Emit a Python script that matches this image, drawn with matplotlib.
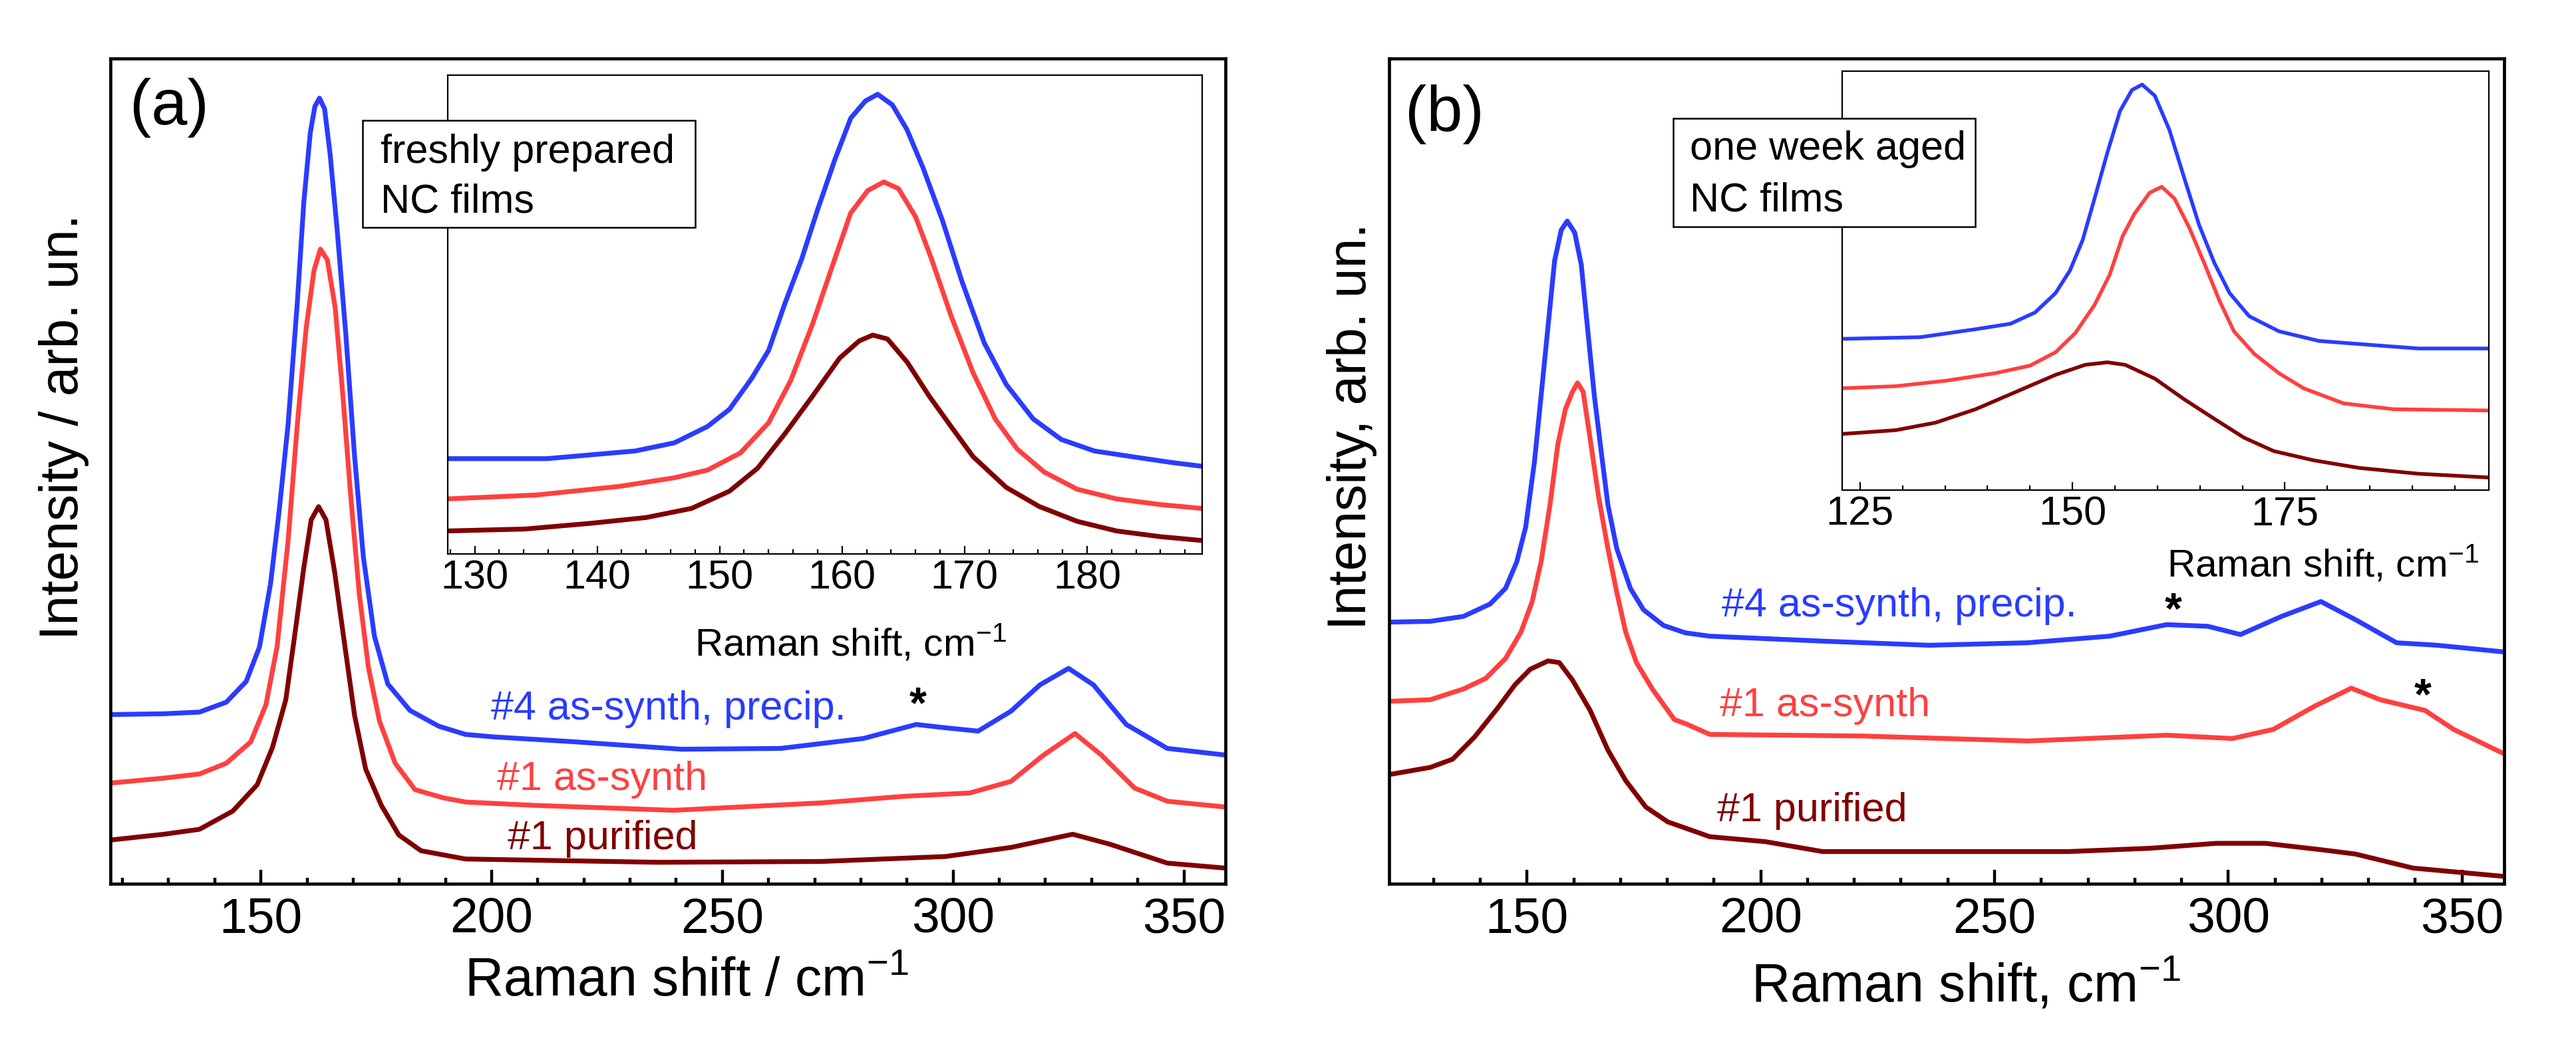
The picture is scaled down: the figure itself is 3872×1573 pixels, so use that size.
import numpy as np
import matplotlib
matplotlib.use("Agg")
import matplotlib.pyplot as plt
from matplotlib.patches import Rectangle
from matplotlib.ticker import MultipleLocator

plt.rcParams['font.family'] = ['Liberation Sans', 'DejaVu Sans']
plt.rcParams['mathtext.fontset'] = 'custom'
plt.rcParams['mathtext.rm'] = 'Liberation Sans'
plt.rcParams['mathtext.it'] = 'Liberation Sans:italic'

BLUE = '#2a3cff'
RED = '#ff4040'
DARK = '#800000'

# panel (a), main spectra (arb. units, 0-100 = axis height)
a_x_blue = [117.4, 129, 136.7, 142.5, 146.8, 149.7, 152.1, 154, 155.9, 157.9, 159.3, 160.7, 161.7,
            162.7, 163.8, 165, 166.5, 168.4, 170.3, 172.2, 174.6, 177.5, 182.3, 188.5, 194.3,
            200.3, 218, 241.2, 262.6, 280.5, 292, 298.3, 305.4, 312.5, 318.8,
            325, 330.4, 337.5, 346.4, 358.9]
a_y_blue = [20.5, 20.6, 20.8, 22.0, 24.5, 28.7, 36.4, 45.4, 55.7, 70.5, 82.6, 91.0, 94.2,
            95.2, 93.9, 88.4, 79.4, 66.6, 51.8, 39.6, 30.0, 24.2, 21.0, 19.1, 18.1,
            17.8, 17.2, 16.3, 16.4, 17.6, 19.3, 18.9, 18.5, 20.9, 24.1,
            26.1, 24.1, 19.3, 16.4, 15.6]
a_x_red = [117.4, 129, 136.7, 142.5, 147.8, 151.1, 153.5, 155.9, 157.9, 159.8, 161.5, 162.9, 164.4,
           166.1, 167.7, 169.4, 171.3, 173.3, 175.7, 179.1, 183.4, 189.6, 194.4,
           209.2, 239.5, 271.5, 289.4, 303.6, 312.5, 319.6, 326.4, 332.1,
           339.3, 346.4, 358.9]
a_y_red = [12.2, 12.8, 13.3, 14.6, 17.2, 21.7, 28.7, 41.6, 55.7, 67.3, 74.3, 76.9, 75.6,
           69.8, 59.6, 47.4, 35.2, 26.2, 19.7, 14.6, 11.4, 10.4, 9.9,
           9.5, 8.9, 9.8, 10.6, 11.0, 12.4, 15.6, 18.2, 15.6,
           11.6, 10.0, 9.3]
a_x_dark = [117.4, 129, 136.7, 143.9, 149.2, 152.5, 155.4, 157.3, 159.3, 160.9, 162.5, 164.1,
            166, 167.9, 170.3, 172.7, 176.1, 179.9, 184.7, 194.3,
            235.9, 271.5, 298.3, 312.5, 325.9, 333.9, 346.4, 358.9]
a_y_dark = [5.3, 6.0, 6.6, 8.8, 12.0, 16.5, 22.3, 30.0, 38.3, 44.1, 45.7, 44.1,
            37.7, 30.0, 20.4, 13.9, 9.5, 5.9, 4.0, 3.0,
            2.6, 2.7, 3.3, 4.4, 6.0, 4.8, 2.5, 1.9]

# panel (a), inset
ai_x_blue = [127.8, 135.9, 143.1, 146.3, 149, 150.8, 152.6, 154, 155.3, 156.7, 158, 159.4, 160.7,
             161.9, 162.9, 164.1, 165.3, 166.6, 168.2, 169.8, 171.6, 173.4, 175.6, 177.9,
             180.6, 183.7, 186.9, 189.4]
ai_y_blue = [19.9, 19.9, 21.5, 23.2, 26.6, 30.2, 36.6, 42.5, 52.1, 61.6, 71.9, 82.3, 91.0,
             94.6, 96.0, 93.8, 88.6, 80.7, 69.6, 56.8, 44.1, 35.4, 28.2, 23.9,
             21.5, 20.3, 19.1, 18.3]
ai_x_red = [127.8, 135, 141.8, 146.3, 149, 151.7, 154, 155.8, 157.6, 159.4, 160.7, 162.1, 163.4,
            164.6, 166, 167.3, 168.9, 170.7, 172.5, 174.3, 176.5, 179.2, 182.4, 186, 189.4]
ai_y_red = [11.5, 12.3, 14.1, 15.9, 17.5, 21.1, 27.4, 36.2, 48.1, 61.6, 71.2, 75.9, 77.7,
            76.3, 70.4, 61.6, 49.7, 37.8, 28.2, 21.9, 17.1, 13.5, 11.5, 10.3, 9.5]
ai_x_dark = [127.8, 134.1, 139.5, 144, 147.7, 150.8, 153.1, 155.3, 157.6, 159.8, 161.4, 162.5,
             163.7, 165.3, 167.1, 168.9, 170.7, 173.4, 176.1, 179.2, 182.4, 186, 189.4]
ai_y_dark = [4.8, 5.2, 6.4, 7.6, 9.5, 13.1, 17.9, 25.0, 33.0, 40.9, 44.5, 45.7,
             44.9, 40.1, 33.0, 26.6, 20.3, 13.9, 9.9, 6.8, 4.8, 3.6, 2.8]

# panel (b), main spectra
b_x_blue = [120.2, 129.3, 136.4, 142.1, 145.4, 147.8, 149.7, 151.6, 153, 154.5, 155.9, 157.3,
            158.6, 160.2, 161.6, 163, 164.4, 165.9, 167.3, 169.2, 172.1, 174.9, 179.2, 183.9,
            189.1, 213.2, 236, 257, 274.6, 286.8, 295.6, 302.6, 311.4, 319.8, 327.2, 336,
            344.7, 358.8]
b_y_blue = [31.7, 31.8, 32.4, 33.9, 35.8, 39.0, 43.2, 51.2, 59.1, 67.6, 75.5, 79.2,
            80.3, 78.9, 75.0, 67.0, 59.1, 52.2, 45.9, 40.6, 35.8, 33.2, 31.3, 30.4,
            30.0, 29.4, 28.9, 29.2, 30.0, 31.4, 31.2, 30.2, 32.4, 34.2, 32.0, 29.2,
            28.9, 28.1]
b_x_red = [120.2, 129.3, 136.4, 141.2, 145.4, 148.7, 151.1, 153, 154.9, 156.6, 158.2, 159.7,
           160.8, 162, 163.4, 165.3, 167.3, 169.2, 171.1, 173.4, 176.8, 181.5, 183.9, 189.1,
           221.9, 257, 286.8, 300.9, 309.6, 318.4, 326.3, 332.5, 342.1, 348.2, 358.8]
b_y_red = [22.1, 22.3, 23.6, 24.9, 27.3, 30.5, 34.2, 39.0, 45.9, 53.3, 57.5, 59.6,
           60.7, 59.6, 54.3, 46.9, 40.6, 35.3, 30.5, 26.8, 23.6, 19.9, 19.4, 18.1,
           17.9, 17.3, 18.0, 17.6, 18.7, 21.5, 23.7, 22.3, 21.0, 18.7, 15.8]
b_x_dark = [120.2, 129.3, 134.1, 138.8, 143.6, 147.4, 150.7, 154.5, 156.9, 159.7, 163.5, 167.3,
            171.1, 175.4, 180.1, 189.1, 201, 213.2, 239.5, 265.8, 283.3, 297.4, 307.9,
            320.2, 327.2, 339.5, 358.8]
b_y_dark = [13.2, 14.1, 15.1, 17.8, 21.2, 24.1, 26.0, 27.0, 26.8, 24.7, 21.0, 16.2,
            12.5, 9.3, 7.5, 5.7, 5.1, 3.9, 3.9, 3.9, 4.3, 4.9, 4.9,
            4.1, 3.6, 1.9, 0.9]

# panel (b), inset
bi_x_blue = [122.9, 132.1, 138.6, 142.7, 145.6, 148, 149.7, 151.2, 152.6, 154.1, 155.6, 157,
             158.2, 159.7, 161.4, 163.2, 164.9, 166.7, 168.5, 170.8, 174.3, 179, 184.8,
             190.7, 199]
bi_y_blue = [36.1, 36.5, 38.4, 39.7, 42.4, 47.0, 52.4, 59.7, 69.6, 80.5, 90.5, 95.5,
             96.8, 94.1, 86.0, 74.2, 63.3, 54.2, 47.0, 41.5, 37.9, 35.6, 34.7,
             33.8, 33.8]
bi_x_red = [122.9, 129.2, 135.1, 140.9, 145, 148, 150.3, 152.6, 154.4, 155.9, 157.3, 159.1,
            160.5, 162, 163.8, 165.5, 167.3, 169, 171.4, 174.3, 177.2, 181.9, 187.8, 199]
bi_y_red = [24.3, 24.8, 26.1, 27.9, 29.7, 32.9, 37.4, 44.2, 51.5, 60.6, 66.0, 71.0,
            72.4, 69.6, 62.4, 54.2, 45.2, 37.9, 32.5, 27.9, 24.3, 20.7, 19.3, 19.0]
bi_x_dark = [122.9, 129.2, 133.9, 138.6, 143.3, 148, 151.5, 154.1, 156.2, 159.7, 163.2, 166.7,
             170.2, 173.7, 178.4, 183.7, 190.7, 199]
bi_y_dark = [13.4, 14.3, 16.1, 19.3, 23.4, 27.5, 29.9, 30.5, 29.9, 26.6, 21.6, 17.0,
             12.5, 9.3, 7.1, 5.3, 3.9, 3.0]

W, H = 3872, 1573
fig = plt.figure(figsize=(W / 200, H / 200), dpi=200)


def px(x0, y0, x1, y1):
    # pixel box -> figure rect
    return [x0 / W, 1 - y1 / H, (x1 - x0) / W, (y1 - y0) / H]


def style_main(ax, xlim):
    ax.set_xlim(*xlim)
    ax.set_ylim(0, 100)
    ax.set_yticks([])
    ax.xaxis.set_major_locator(MultipleLocator(50))
    ax.xaxis.set_minor_locator(MultipleLocator(10))
    ax.tick_params(axis='x', which='both', direction='in', top=False, width=1.6)
    ax.tick_params(axis='x', which='major', length=7.5, labelsize=27, pad=7)
    ax.tick_params(axis='x', which='minor', length=3.3)
    for s in ax.spines.values():
        s.set_linewidth(1.7)


def style_inset(ax, xlim, major, minor):
    ax.set_xlim(*xlim)
    ax.set_ylim(0, 100)
    ax.set_yticks([])
    ax.xaxis.set_major_locator(MultipleLocator(major))
    ax.xaxis.set_minor_locator(MultipleLocator(minor))
    ax.tick_params(axis='x', which='both', direction='in', top=False, width=0.8)
    ax.tick_params(axis='x', which='major', length=4.5, labelsize=22, pad=3)
    ax.tick_params(axis='x', which='minor', length=2.5)
    for s in ax.spines.values():
        s.set_linewidth(0.8)


# ---- panel (a)
ax1 = fig.add_axes(px(166, 88, 1842, 1329))
ax1.plot(a_x_blue, a_y_blue, color=BLUE, lw=2.6)
ax1.plot(a_x_red, a_y_red, color=RED, lw=2.6)
ax1.plot(a_x_dark, a_y_dark, color=DARK, lw=2.6)
style_main(ax1, (117.4, 359))
ax1.set_xlabel('Raman shift / cm$^{-1}$', fontsize=29)
ax1.xaxis.set_label_coords(0.517, -0.088)
ax1.set_ylabel('Intensity / arb. un.', fontsize=29)
ax1.yaxis.set_label_coords(-0.019, 0.554)
ax1.text(199.9, 19.9, '#4 as-synth, precip.', color=BLUE, fontsize=22, va='baseline')
ax1.text(201.2, 11.4, '#1 as-synth', color=RED, fontsize=22, va='baseline')
ax1.text(203.5, 4.2, '#1 purified', color=DARK, fontsize=22, va='baseline')
ax1.text(292.4, 20.1, '*', color='black', fontsize=24, fontweight='bold', ha='center', va='baseline')

ia = fig.add_axes(px(673, 113, 1807, 833))
ia.plot(ai_x_blue, ai_y_blue, color=BLUE, lw=2.6)
ia.plot(ai_x_red, ai_y_red, color=RED, lw=2.6)
ia.plot(ai_x_dark, ai_y_dark, color=DARK, lw=2.6)
style_inset(ia, (127.8, 189.4), 10, 2)
ia.set_xlabel('Raman shift, cm$^{-1}$', fontsize=21)
ia.xaxis.set_label_coords(0.534, -0.145)

# ---- panel (b)
ax2 = fig.add_axes(px(2088, 88, 3764, 1329))
ax2.plot(b_x_blue, b_y_blue, color=BLUE, lw=2.6)
ax2.plot(b_x_red, b_y_red, color=RED, lw=2.6)
ax2.plot(b_x_dark, b_y_dark, color=DARK, lw=2.6)
style_main(ax2, (120.5, 359))
ax2.set_xlabel('Raman shift, cm$^{-1}$', fontsize=29)
ax2.xaxis.set_label_coords(0.517, -0.088)
ax2.set_ylabel('Intensity, arb. un.', fontsize=29)
ax2.yaxis.set_label_coords(-0.011, 0.554)
ax2.text(191.6, 32.4, '#4 as-synth, precip.', color=BLUE, fontsize=22, va='baseline')
ax2.text(191.2, 20.3, '#1 as-synth', color=RED, fontsize=22, va='baseline')
ax2.text(190.7, 7.6, '#1 purified', color=DARK, fontsize=22, va='baseline')
ax2.text(288.2, 31.6, '*', color='black', fontsize=24, fontweight='bold', ha='center', va='baseline')
ax2.text(341.6, 21.2, '*', color='black', fontsize=24, fontweight='bold', ha='center', va='baseline')

ib = fig.add_axes(px(2769, 107, 3741, 737))
ib.plot(bi_x_blue, bi_y_blue, color=BLUE, lw=2.0)
ib.plot(bi_x_red, bi_y_red, color=RED, lw=2.0)
ib.plot(bi_x_dark, bi_y_dark, color=DARK, lw=2.0)
style_inset(ib, (122.9, 199), 25, 5)
ib.set_xlabel('Raman shift, cm$^{-1}$', fontsize=21)
ib.xaxis.set_label_coords(0.743, -0.13)

# text boxes and panel letters
for x0, y0, x1, y1 in [(545, 181, 1045, 342), (2515, 178, 2969, 341)]:
    fig.patches.append(Rectangle((x0 / W, 1 - y1 / H), (x1 - x0) / W, (y1 - y0) / H,
                                 transform=fig.transFigure, facecolor='white',
                                 edgecolor='black', lw=0.9, zorder=5))
fig.text(572 / W, 1 - 245 / H, 'freshly prepared', fontsize=22, va='baseline', zorder=6)
fig.text(572 / W, 1 - 320 / H, 'NC films', fontsize=22, va='baseline', zorder=6)
fig.text(2540 / W, 1 - 240 / H, 'one week aged', fontsize=22, va='baseline', zorder=6)
fig.text(2540 / W, 1 - 318 / H, 'NC films', fontsize=22, va='baseline', zorder=6)
fig.text(195 / W, 1 - 187 / H, '(a)', fontsize=35, va='baseline')
fig.text(2112 / W, 1 - 197 / H, '(b)', fontsize=35, va='baseline')

fig.savefig('out.png', dpi=200)
